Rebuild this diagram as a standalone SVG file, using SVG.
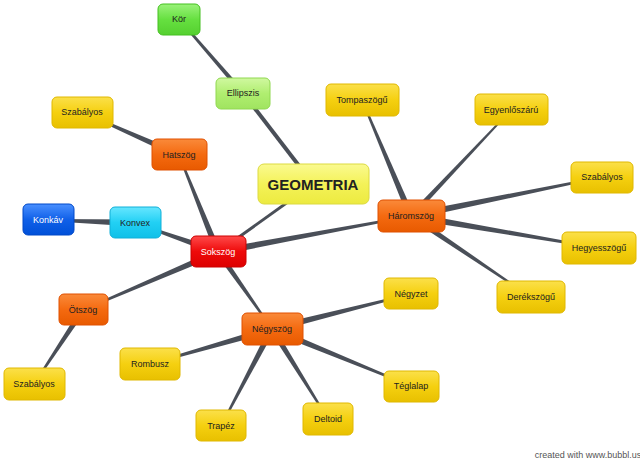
<svg xmlns="http://www.w3.org/2000/svg" width="640" height="466" viewBox="0 0 640 466">
<defs>
<linearGradient id="gy" x1="0" y1="0" x2="0" y2="1"><stop offset="0" stop-color="#fbe04a"/><stop offset="0.5" stop-color="#f5d010"/><stop offset="1" stop-color="#e8c000"/></linearGradient>
<linearGradient id="go" x1="0" y1="0" x2="0" y2="1"><stop offset="0" stop-color="#fa8a3a"/><stop offset="0.5" stop-color="#f46a10"/><stop offset="1" stop-color="#e85a00"/></linearGradient>
<linearGradient id="gr" x1="0" y1="0" x2="0" y2="1"><stop offset="0" stop-color="#ff4a4a"/><stop offset="0.5" stop-color="#ee0a0a"/><stop offset="1" stop-color="#dd0000"/></linearGradient>
<linearGradient id="gc" x1="0" y1="0" x2="0" y2="1"><stop offset="0" stop-color="#66e6ff"/><stop offset="0.5" stop-color="#22d0f4"/><stop offset="1" stop-color="#10c0e8"/></linearGradient>
<linearGradient id="gb" x1="0" y1="0" x2="0" y2="1"><stop offset="0" stop-color="#4a90ff"/><stop offset="0.5" stop-color="#1060e8"/><stop offset="1" stop-color="#0050d8"/></linearGradient>
<linearGradient id="gg" x1="0" y1="0" x2="0" y2="1"><stop offset="0" stop-color="#9af27a"/><stop offset="0.5" stop-color="#66e040"/><stop offset="1" stop-color="#55d030"/></linearGradient>
<linearGradient id="gl" x1="0" y1="0" x2="0" y2="1"><stop offset="0" stop-color="#d0f8a0"/><stop offset="0.5" stop-color="#b0ee70"/><stop offset="1" stop-color="#a0e460"/></linearGradient>
<linearGradient id="gm" x1="0" y1="0" x2="0" y2="1"><stop offset="0" stop-color="#fafa90"/><stop offset="0.5" stop-color="#f4f258"/><stop offset="1" stop-color="#ecea40"/></linearGradient>
</defs>
<style>
rect{stroke-width:1}
.y rect{fill:url(#gy);stroke:#e0b800}
.o rect{fill:url(#go);stroke:#e05000}
.r rect{fill:url(#gr);stroke:#cc0000}
.c rect{fill:url(#gc);stroke:#10b0d8}
.b rect{fill:url(#gb);stroke:#0048c8}
.g rect{fill:url(#gg);stroke:#44c020}
.l rect{fill:url(#gl);stroke:#90d850}
.m rect{fill:url(#gm);stroke:#dcda40}
text{font-family:"Liberation Sans",Arial,sans-serif;font-size:9px;text-anchor:middle;dominant-baseline:central;fill:#222}
.w text{fill:#fff}
#edges polygon{fill:#4a4f58}
#edges line{stroke:#4a4f58}
</style>
<rect width="640" height="466" fill="#fff"/>
<g id="edges">
<line x1="313" y1="184" x2="243" y2="93" stroke-width="4"/>
<line x1="313" y1="184" x2="218" y2="252" stroke-width="3"/>
<polygon points="240,93 177.5,19 180.5,19 246,93"/>
<polygon points="214.5,252 178,155 180,155 221.5,252"/>
<polygon points="179,151.5 82,111 82,113 179,158.5"/>
<polygon points="218,248.5 135,222 135,224 218,255.5"/>
<polygon points="135,219.5 48,219 48,221 135,226.5"/>
<polygon points="218,248.5 83,309 83,311 218,255.5"/>
<polygon points="79.5,310 33,384 35,384 86.5,310"/>
<polygon points="214.5,252 271,329 273,329 221.5,252"/>
<polygon points="218,248.5 411,215 411,217 218,255.5"/>
<polygon points="272,325.5 411,293 411,295 272,332.5"/>
<polygon points="272,325.5 150,363 150,365 272,332.5"/>
<polygon points="268.5,329 220,426 222,426 275.5,329"/>
<polygon points="268.5,329 327,419 329,419 275.5,329"/>
<polygon points="272,325.5 411,385 411,387 272,332.5"/>
<polygon points="407.5,216 361,100 363,100 414.5,216"/>
<polygon points="407.5,216 510,110 512,110 414.5,216"/>
<polygon points="411,212.5 602,176 602,178 411,219.5"/>
<polygon points="411,212.5 599,247 599,249 411,219.5"/>
<polygon points="411,212.5 531,296 531,298 411,219.5"/>
</g>
<g id="kor" class="g"><rect x="158" y="4" width="42" height="31" rx="5"/><text x="179" y="19">Kör</text></g>
<g id="ellipszis" class="l"><rect x="216" y="78" width="54" height="31" rx="5"/><text x="243" y="93">Ellipszis</text></g>
<g id="geometria" class="m"><rect x="258" y="164" width="111" height="40" rx="6"/><text x="313" y="184" style="font-size:15px;font-weight:bold">GEOMETRIA</text></g>
<g id="szabalyos1" class="y"><rect x="52" y="97" width="61" height="31" rx="5"/><text x="82" y="112">Szabályos</text></g>
<g id="hatszog" class="o"><rect x="152" y="139" width="55" height="31" rx="5"/><text x="179" y="155">Hatszög</text></g>
<g id="konkav" class="b w"><rect x="23" y="204" width="51" height="31" rx="5"/><text x="48" y="220">Konkáv</text></g>
<g id="konvex" class="c"><rect x="110" y="207" width="51" height="31" rx="5"/><text x="135" y="223">Konvex</text></g>
<g id="sokszog" class="r w"><rect x="191" y="236" width="55" height="31" rx="5"/><text x="218" y="252">Sokszög</text></g>
<g id="otszog" class="o"><rect x="59" y="294" width="49" height="31" rx="5"/><text x="83" y="310">Ötszög</text></g>
<g id="szabalyos2" class="y"><rect x="4" y="368" width="61" height="32" rx="5"/><text x="34" y="384">Szabályos</text></g>
<g id="negyszog" class="o"><rect x="242" y="313" width="61" height="32" rx="5"/><text x="272" y="329">Négyszög</text></g>
<g id="rombusz" class="y"><rect x="120" y="348" width="60" height="32" rx="5"/><text x="150" y="364">Rombusz</text></g>
<g id="trapez" class="y"><rect x="196" y="410" width="50" height="31" rx="5"/><text x="221" y="426">Trapéz</text></g>
<g id="deltoid" class="y"><rect x="303" y="403" width="50" height="32" rx="5"/><text x="328" y="419">Deltoid</text></g>
<g id="teglalap" class="y"><rect x="384" y="371" width="55" height="31" rx="5"/><text x="411" y="386">Téglalap</text></g>
<g id="negyzet" class="y"><rect x="384" y="278" width="54" height="31" rx="5"/><text x="411" y="294">Négyzet</text></g>
<g id="haromszog" class="o"><rect x="378" y="200" width="67" height="32" rx="5"/><text x="411" y="216">Háromszög</text></g>
<g id="tompaszogu" class="y"><rect x="326" y="84" width="73" height="32" rx="5"/><text x="362" y="100">Tompaszögű</text></g>
<g id="egyenloszaru" class="y"><rect x="475" y="94" width="73" height="31" rx="5"/><text x="511" y="110">Egyenlőszárú</text></g>
<g id="szabalyos3" class="y"><rect x="571" y="162" width="62" height="31" rx="5"/><text x="602" y="177">Szabályos</text></g>
<g id="hegyesszogu" class="y"><rect x="562" y="232" width="74" height="32" rx="5"/><text x="599" y="248">Hegyesszögű</text></g>
<g id="derekszogu" class="y"><rect x="497" y="281" width="68" height="32" rx="5"/><text x="531" y="297">Derékszögű</text></g>
<text x="588" y="455" style="font-size:9px;fill:#555">created with www.bubbl.us</text>
</svg>
